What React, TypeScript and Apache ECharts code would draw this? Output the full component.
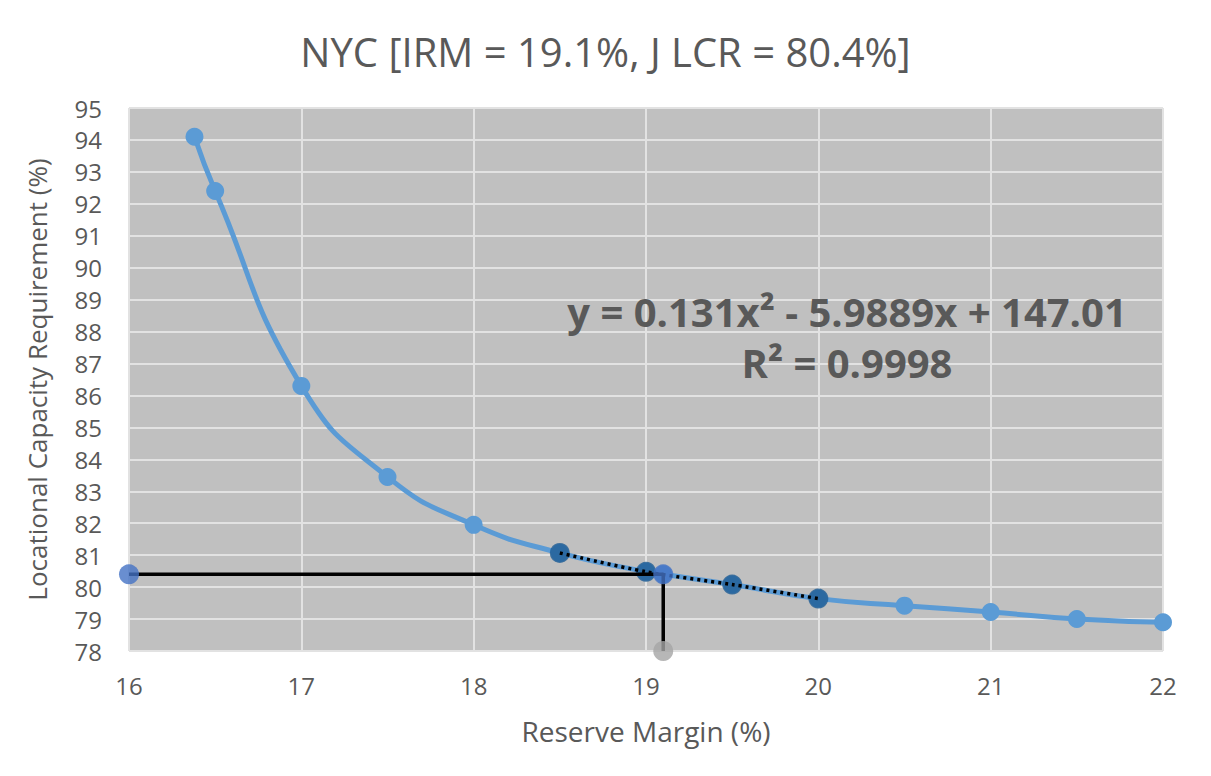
import React, { useEffect, useRef } from "react";
import * as echarts from "echarts";

const reserveMargin = [16.38, 16.5, 17, 17.5, 18, 18.5, 19, 19.1, 19.5, 20, 20.5, 21, 21.5, 22];
const lcr = [94.1, 92.4, 86.3, 83.45, 81.95, 81.07, 80.48, 80.4, 80.08, 79.64, 79.42, 79.22, 79.0, 78.9];
const fitX = [18.5, 19, 19.5, 20];
const fitY = [81.07, 80.48, 80.08, 79.64];
const irm = 19.1;
const jlcr = 80.4;
const xMinVal = 16;
const yMinVal = 78;
const titleText = "NYC [IRM = 19.1%, J LCR = 80.4%]";
const eqText = "y = 0.131x² - 5.9889x + 147.01";
const r2Text = "R² = 0.9998";

export default function App() {
  const ref = useRef<HTMLDivElement>(null);
  useEffect(() => {
    const chart = echarts.init(ref.current!, null, { renderer: "svg" });
    const font = "Open Sans";
    chart.setOption({
      animation: false,
      backgroundColor: "#ffffff",
      title: {
        text: titleText,
        left: "center",
        top: 26,
        textStyle: { fontFamily: font, fontSize: 40, fontWeight: "normal", color: "#595959" },
      },
      grid: {
        left: 129,
        right: 48,
        top: 108,
        bottom: 125,
        show: true,
        backgroundColor: "#c0c0c0",
        borderWidth: 0,
      },
      xAxis: {
        type: "value",
        min: 16,
        max: 22,
        interval: 1,
        name: "Reserve Margin (%)",
        nameLocation: "middle",
        nameGap: 66,
        nameTextStyle: { fontFamily: font, fontSize: 28, color: "#595959" },
        axisLine: { show: false },
        axisTick: { show: false },
        axisLabel: { fontFamily: font, fontSize: 24, color: "#595959", margin: 22 },
        splitLine: { lineStyle: { color: "#e2e2e2", width: 2 } },
      },
      yAxis: {
        type: "value",
        min: 78,
        max: 95,
        interval: 1,
        name: "Locational Capacity Requirement (%)",
        nameLocation: "middle",
        nameGap: 79,
        nameTextStyle: { fontFamily: font, fontSize: 26, color: "#595959" },
        axisLine: { show: false },
        axisTick: { show: false },
        axisLabel: { fontFamily: font, fontSize: 24, color: "#595959", margin: 27 },
        splitLine: { lineStyle: { color: "#e2e2e2", width: 2 } },
      },
      graphic: [
        {
          type: "text",
          x: 847,
          y: 311,
          z: 10,
          style: {
            text: eqText,
            fontFamily: font,
            fontSize: 40,
            fontWeight: "bold",
            fill: "#595959",
            align: "center",
            verticalAlign: "middle",
          },
        },
        {
          type: "text",
          x: 847,
          y: 362,
          z: 10,
          style: {
            text: r2Text,
            fontFamily: font,
            fontSize: 40,
            fontWeight: "bold",
            fill: "#595959",
            align: "center",
            verticalAlign: "middle",
          },
        },
      ],
      series: [
        {
          type: "line",
          data: reserveMargin.map((x, i) => [x, lcr[i]]),
          smooth: 0.5,
          symbol: "circle",
          symbolSize: 18,
          itemStyle: { color: "#5b9bd5" },
          lineStyle: { color: "#5b9bd5", width: 5 },
          z: 2,
        },
        {
          type: "scatter",
          data: fitX.map((x, i) => [x, fitY[i]]),
          symbol: "circle",
          symbolSize: 20,
          itemStyle: { color: "#1f5c94" },
          z: 3,
        },
        {
          type: "line",
          data: fitX.map((x, i) => [x, fitY[i]]),
          smooth: 0.3,
          symbol: "none",
          lineStyle: { color: "#000000", width: 3.5, type: [3, 4] },
          z: 4,
        },
        {
          type: "line",
          data: [[xMinVal, jlcr], [irm, jlcr], [irm, yMinVal]],
          symbol: "none",
          lineStyle: { color: "#000000", width: 3.5 },
          z: 5,
        },
        {
          type: "scatter",
          data: [[irm, jlcr]],
          symbolSize: 20,
          itemStyle: { color: "#4472c4" },
          z: 6,
        },
        {
          type: "scatter",
          data: [[xMinVal, jlcr]],
          symbolSize: 20,
          itemStyle: { color: "#4472c4" },
          clip: false,
          z: 6,
        },
        {
          type: "scatter",
          data: [[irm, yMinVal]],
          symbolSize: 20,
          itemStyle: { color: "#a5a5a5" },
          clip: false,
          z: 6,
        },
      ],
    });
    return () => chart.dispose();
  }, []);
  return (
    <div
      ref={ref}
      style={{ position: "fixed", left: 0, top: 0, width: 1211, height: 776 }}
    />
  );
}
